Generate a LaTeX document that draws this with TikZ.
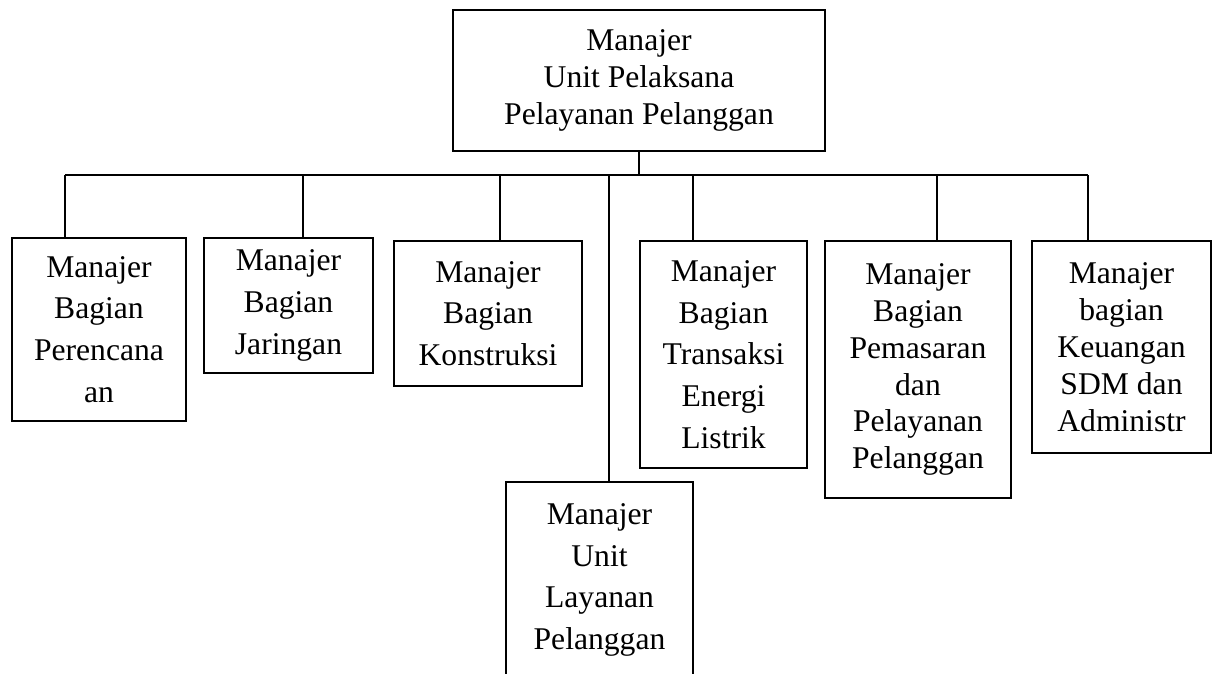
\documentclass[tikz,border=0pt]{standalone}
\usepackage{fontspec}
\setmainfont{Liberation Serif}
\usetikzlibrary{positioning}

\begin{document}
\begin{tikzpicture}[
  x=0.02cm, y=-0.02cm,
  box/.style={draw=black,line width=1pt,align=center,inner sep=0pt,
    font=\fontsize{18}{23.8}\selectfont},
  tight/.style={font=\fontsize{18}{21}\selectfont},
  link/.style={line width=1pt}
]
\useasboundingbox (0,0) rectangle (1212,673);
\clip (0,0) rectangle (1212,673);
% top unit
\node[box,tight,minimum width=7.44cm,minimum height=2.82cm] (upp) at (639,80.5)
  {Manajer\\Unit Pelaksana\\Pelayanan Pelanggan};
% bagian
\node[box,minimum width=3.48cm,minimum height=3.66cm] (rencana) at (99,329.5)
  {Manajer\\Bagian\\Perencana\\an};
\node[box,minimum width=3.38cm,minimum height=2.70cm] (jaringan) at (288.5,305.5)
  {Manajer\\Bagian\\Jaringan};
\node[box,minimum width=3.76cm,minimum height=2.90cm] (konstruksi) at (488,313.5)
  {Manajer\\Bagian\\Konstruksi};
\node[box,minimum width=3.74cm,minimum height=3.92cm] (layanan) at (599.5,580)
  {Manajer\\Unit\\Layanan\\Pelanggan};
\node[box,minimum width=3.34cm,minimum height=4.54cm] (transaksi) at (723.5,354.5)
  {Manajer\\Bagian\\Transaksi\\Energi\\Listrik};
\node[box,tight,minimum width=3.72cm,minimum height=5.14cm] (pemasaran) at (918,369.5)
  {Manajer\\Bagian\\Pemasaran\\dan\\Pelayanan\\Pelanggan};
\node[box,tight,minimum width=3.58cm,minimum height=4.24cm] (keuangan) at (1121.5,347)
  {Manajer\\bagian\\Keuangan\\SDM dan\\Administr};
% bus line
\coordinate (bus1) at (65,175);
\coordinate (bus2) at (303,175);
\coordinate (bus3) at (500,175);
\coordinate (bus4) at (609,175);
\coordinate (bus5) at (693,175);
\coordinate (bus6) at (937,175);
\coordinate (bus7) at (1088,175);
\draw[link] (bus1) -- (bus7);
\draw[link] (upp.south) -- (upp.south |- bus1);
\draw[link] (bus1) -- (bus1 |- rencana.north);
\draw[link] (bus2) -- (bus2 |- jaringan.north);
\draw[link] (bus3) -- (bus3 |- konstruksi.north);
\draw[link] (bus4) -- (bus4 |- layanan.north);
\draw[link] (bus5) -- (bus5 |- transaksi.north);
\draw[link] (bus6) -- (bus6 |- pemasaran.north);
\draw[link] (bus7) -- (bus7 |- keuangan.north);
\end{tikzpicture}
\end{document}
